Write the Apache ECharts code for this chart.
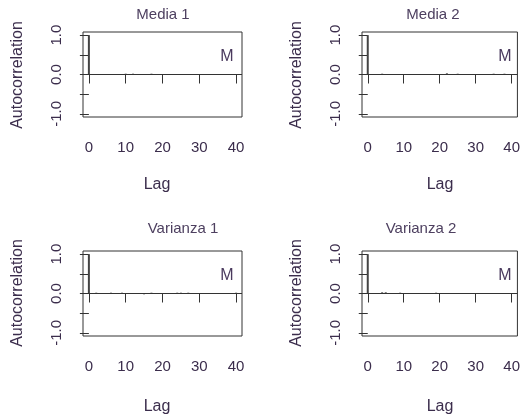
<!DOCTYPE html>
<html><head><meta charset="utf-8">
<script src="https://cdn.jsdelivr.net/npm/echarts@6/dist/echarts.min.js"></script>
<style>html,body{margin:0;padding:0;background:#fff}#c{width:523px;height:417px}</style>
</head><body><div id="c"></div>
<script>
const lags = [0,1,2,3,4,5,6,7,8,9,10,11,12,13,14,15,16,17,18,19,20,21,22,23,24,25,26,27,28,29,30,31,32,33,34,35,36,37,38,39,40];
const media1 = [1,0.01,-0.01,0.00,0.01,-0.01,0.00,0.01,-0.01,0.00,0.02,0.01,0.02,-0.01,0.00,0.01,-0.01,0.02,0.00,-0.01,0.01,0.00,-0.01,0.01,0.00,-0.01,0.01,0.00,-0.01,0.01,0.00,-0.01,0.00,0.01,-0.01,0.00,0.01,-0.01,0.00,0.01,0.00];
const media2 = [1,0.00,0.01,-0.01,0.02,0.00,-0.01,0.01,0.00,-0.01,0.01,0.00,-0.01,0.00,0.01,-0.01,0.00,0.01,0.00,-0.01,0.00,0.01,0.03,0.00,-0.01,0.02,0.00,0.01,-0.01,0.00,0.01,0.00,-0.01,0.00,0.01,0.02,0.00,-0.01,0.02,0.00,0.01];
const varianza1 = [1,0.01,0.02,0.00,-0.01,0.01,0.02,0.00,-0.01,0.02,0.00,0.01,-0.01,0.00,0.01,-0.02,0.00,0.02,0.00,-0.01,0.00,0.01,-0.01,0.00,0.02,0.02,0.00,0.02,-0.01,0.00,0.01,0.00,-0.01,0.00,0.01,0.00,-0.01,0.00,0.01,0.00,0.02];
const varianza2 = [1,0.00,0.01,-0.01,0.03,0.03,0.00,-0.01,0.01,0.02,0.00,-0.01,0.01,0.00,-0.01,0.00,0.01,0.00,-0.01,0.02,0.00,0.01,0.00,-0.01,0.00,0.01,0.00,-0.01,0.00,0.01,0.00,-0.01,0.00,0.01,0.00,-0.01,0.00,0.01,0.00,-0.01,0.00];
const titles = ["Media 1","Media 2","Varianza 1","Varianza 2"];
const seriesValues = [media1, media2, varianza1, varianza2];
const xTicks = [0,10,20,30,40];
const yTicks = [-1,-0.5,0,0.5,1];
const yTickLabels = [-1,0,1];
const legendText = "M";
const xName = "Lag";
const yName = "Autocorrelation";

const txt = '#3b2d4c', titleCol = '#4e4060', lineCol = '#333333';
const FONT = 'Liberation Sans, Arial, sans-serif';
const grids = [
  {left:83, top:32, width:159, height:85},
  {left:362, top:32, width:158, height:85},
  {left:83, top:251, width:159, height:85},
  {left:362, top:251, width:158, height:85}
];
const titlePos = [[163,15],[433,15],[183,229],[421,229]];
const yNamePos = [[18,75],[297,75],[18,293],[297,293]];
const xNamePos = [[157,185],[440,185],[157,407],[440,407]];

const option = {
  animation:false,
  grid: grids.map(g => Object.assign({show:true, borderColor:lineCol, borderWidth:1, backgroundColor:'transparent', containLabel:false}, g)),
  xAxis: grids.map((g,i) => ({
    type:'value', gridIndex:i, min:-1.6, max:41.6,
    axisLine:{show:false},
    splitLine:{show:false},
    axisTick:{show:true, length:9, customValues:xTicks, lineStyle:{color:lineCol}},
    axisLabel:{show:true, customValues:xTicks, margin:23, color:txt, fontSize:15, fontFamily:FONT}
  })),
  yAxis: grids.map((g,i) => ({
    type:'value', gridIndex:i, min:-1.08, max:1.08,
    axisLine:{show:false},
    splitLine:{show:false},
    axisTick:{show:true, length:9, customValues:yTicks, lineStyle:{color:lineCol}},
    axisLabel:{show:true, customValues:yTickLabels, rotate:90, margin:19, color:txt, fontSize:15, fontFamily:FONT,
      formatter: v => Number(v).toFixed(1)}
  })),
  series: seriesValues.map((vals,i) => ({
    type:'bar', xAxisIndex:i, yAxisIndex:i, barWidth:2,
    itemStyle:{color:'#444444'},
    data: lags.map((l,k) => [l, vals[k]]),
    markLine:{silent:true, symbol:'none', label:{show:false},
      lineStyle:{color:lineCol, width:1, type:'solid'},
      data:[{yAxis:0}]}
  })),
  graphic: [].concat(
    titles.map((t,i) => ({type:'text', x:titlePos[i][0], y:titlePos[i][1],
      style:{text:t, fill:titleCol, font:'15px '+FONT, textAlign:'center', textVerticalAlign:'middle'}})),
    yNamePos.map(p => ({type:'text', x:p[0], y:p[1], rotation:Math.PI/2,
      style:{text:yName, fill:txt, font:'16px '+FONT, textAlign:'center', textVerticalAlign:'middle'}})),
    xNamePos.map(p => ({type:'text', x:p[0], y:p[1],
      style:{text:xName, fill:txt, font:'16px '+FONT, textAlign:'center', textVerticalAlign:'middle'}})),
    grids.map(g => ({type:'text', x:g.left+g.width-15, y:g.top+25,
      style:{text:legendText, fill:'#4a3a5e', font:'16px '+FONT, textAlign:'center', textVerticalAlign:'middle'}}))
  )
};
const chart = echarts.init(document.getElementById('c'), null, {renderer:'canvas'});
chart.setOption(option);
</script></body></html>
